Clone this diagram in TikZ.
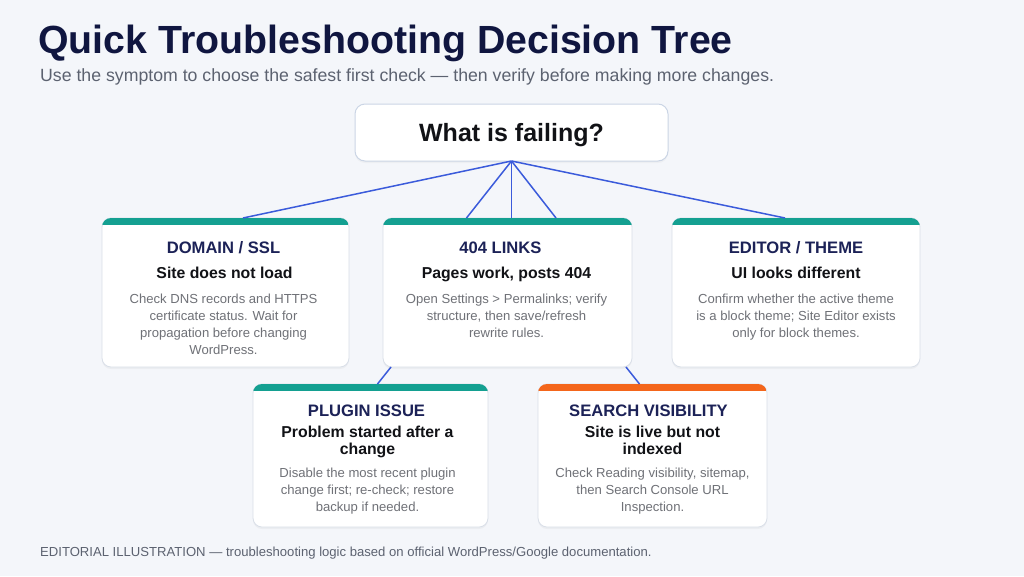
\documentclass[tikz,border=0pt]{standalone}
\usepackage{fontspec}
\setmainfont{Liberation Sans}
\usetikzlibrary{calc,shadows}
\definecolor{bgc}{HTML}{F4F6FA}
\definecolor{titlec}{HTML}{101640}
\definecolor{subc}{HTML}{5C6270}
\definecolor{navy}{HTML}{1C2257}
\definecolor{blackc}{HTML}{111216}
\definecolor{bodyc}{HTML}{6F7177}
\definecolor{teal}{HTML}{14A091}
\definecolor{orng}{HTML}{F4661B}
\definecolor{linkc}{HTML}{3B5BDB}
\definecolor{cardline}{HTML}{D9DFE8}
\definecolor{rootline}{HTML}{CBD5E5}
\tikzset{
  cardbox/.style={draw=cardline, fill=white, rounded corners=9pt, line width=0.8pt,
    inner sep=0pt, outer sep=0pt,
    drop shadow={opacity=0.07, shadow xshift=0pt, shadow yshift=-2pt}},
  rootbox/.style={draw=rootline, fill=white, rounded corners=10pt, line width=1pt,
    inner sep=0pt, outer sep=0pt,
    drop shadow={opacity=0.06, shadow xshift=0pt, shadow yshift=-2pt}},
  cardtitle/.style={font=\fontsize{16.6}{20}\selectfont\bfseries, text=navy, anchor=base, inner sep=0pt},
  cardsub/.style={font=\fontsize{15.8}{17}\selectfont\bfseries, text=blackc, anchor=base, inner sep=0pt, align=center},
  cardsubm/.style={font=\fontsize{15.8}{17}\selectfont\bfseries, text=blackc, anchor=north, inner sep=0pt, align=center},
  cardbody/.style={font=\fontsize{13.1}{17}\selectfont, text=bodyc, anchor=north, inner sep=0pt, align=center},
  link/.style={draw=linkc, line width=1.5pt}
}
\newcommand\mkcard[6]{% name, x, y, w, h, colour
  \node[cardbox, anchor=north west, minimum width=#4pt, minimum height=#5pt] (#1) at (#2,#3) {};
  \begin{scope}
    \clip[rounded corners=9pt] (#1.north west) rectangle (#1.south east);
    \fill[#6] (#1.north west) rectangle ($(#1.north east)+(0,7)$);
  \end{scope}
}
\begin{document}
\begin{tikzpicture}[x=1pt,y=-1pt]
\useasboundingbox (0,0) rectangle (1024,576);
\fill[bgc] (0,0) rectangle (1024,576);

% heading
\node[anchor=base west, inner sep=0pt, font=\fontsize{39.3}{44}\selectfont\bfseries, text=titlec] (title) at (38,53) {Quick Troubleshooting Decision Tree};
\node[anchor=base west, inner sep=0pt, font=\fontsize{17.7}{20}\selectfont, text=subc] (subtitle) at (40,81) {Use the symptom to choose the safest first check — then verify before making more changes.};

% root
\node[rootbox, anchor=north west, minimum width=313pt, minimum height=57pt] (root) at (355,104) {};
\node[anchor=base, inner sep=0pt, font=\fontsize{25}{30}\selectfont\bfseries, text=blackc] (rootT) at ($(root.north)+(0,37)$) {What is failing?};

% cards
\mkcard{dom}{102}{218}{247}{149}{teal}
\mkcard{lnk}{383}{218}{249}{149}{teal}
\mkcard{edt}{672}{218}{248}{149}{teal}
\mkcard{plg}{253}{384}{235}{143}{teal}
\mkcard{sea}{538}{384}{229}{143}{orng}

% connectors
\draw[link] (root.south) -- ($(dom.north)+(17.5,0)$);
\draw[link] (root.south) -- ($(lnk.north)+(-41,0)$);
\draw[link] (root.south) -- ($(lnk.north)+(4,0)$);
\draw[link] (root.south) -- ($(lnk.north)+(48.5,0)$);
\draw[link] (root.south) -- ($(edt.north)+(-11,0)$);
\draw[link] ($(lnk.south west)+(8,0)$) -- ($(plg.north)+(7,0)$);
\draw[link] ($(lnk.south east)+(-6,0)$) -- ($(sea.north)+(-13,0)$);

% card texts row 1
\node[cardtitle] (domT) at ($(dom.north)+(-2,35)$) {DOMAIN / SSL};
\node[cardsub] (domS) at ($(dom.north)+(-1,60)$) {Site does not load};
\node[cardbody] (domB) at ($(dom.north)+(-2,73.6)$) {\strut Check DNS records and HTTPS\\certificate status. Wait for\\propagation before changing\\WordPress.};

\node[cardtitle] (lnkT) at ($(lnk.north)+(-7,35)$) {404 LINKS};
\node[cardsub] (lnkS) at ($(lnk.north)+(-1,60)$) {Pages work, posts 404};
\node[cardbody] (lnkB) at ($(lnk.north)+(-1,73.6)$) {\strut Open Settings > Permalinks; verify\\structure, then save/refresh\\rewrite rules.};

\node[cardtitle] (edtT) at ($(edt.north)+(0,35)$) {EDITOR / THEME};
\node[cardsub] (edtS) at ($(edt.north)+(0,60)$) {UI looks different};
\node[cardbody] (edtB) at ($(edt.north)+(0,73.6)$) {\strut Confirm whether the active theme\\is a block theme; Site Editor exists\\only for block themes.};

% card texts row 2
\node[cardtitle] (plgT) at ($(plg.north)+(-4,32)$) {PLUGIN ISSUE};
\node[cardsubm] (plgS) at ($(plg.north)+(-3,41.4)$) {\strut Problem started after a\\change};
\node[cardbody] (plgB) at ($(plg.north)+(-3,81.6)$) {\strut Disable the most recent plugin\\change first; re-check; restore\\backup if needed.};

\node[cardtitle] (seaT) at ($(sea.north)+(-4,32)$) {SEARCH VISIBILITY};
\node[cardsubm] (seaS) at ($(sea.north)+(0,41.4)$) {\strut Site is live but not\\indexed};
\node[cardbody] (seaB) at ($(sea.north)+(0,81.6)$) {\strut Check Reading visibility, sitemap,\\then Search Console URL\\Inspection.};

% footer
\node[anchor=base west, inner sep=0pt, font=\fontsize{13.1}{15}\selectfont, text=subc] (footer) at (40,556) {EDITORIAL ILLUSTRATION — troubleshooting logic based on official WordPress/Google documentation.};
\end{tikzpicture}
\end{document}
